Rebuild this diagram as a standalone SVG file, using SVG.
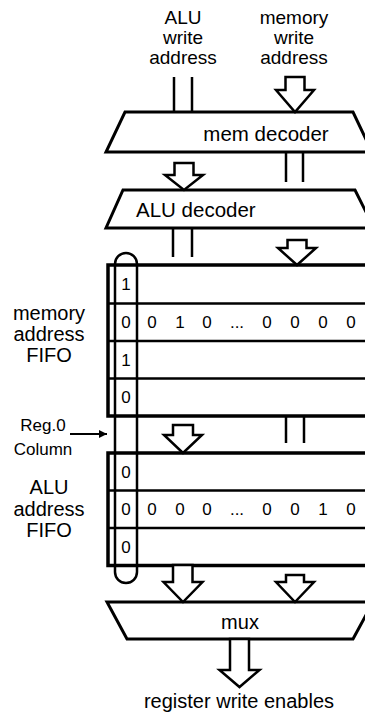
<svg xmlns="http://www.w3.org/2000/svg" width="365" height="715" viewBox="0 0 365 715">
<defs>
<style>
text{font-family:"Liberation Sans",Arial,Helvetica,sans-serif;fill:#000}
.lbl{font-size:19px;text-anchor:middle}
.side{font-size:20px;text-anchor:middle}
.dec{font-size:20.5px}
.dig{font-size:17px;text-anchor:middle}
.small{font-size:17px;text-anchor:middle}
.shape{fill:#fff;stroke:#000;stroke-width:3;stroke-linejoin:miter}
.box{fill:none;stroke:#000;stroke-width:3.5}
.div{fill:none;stroke:#000;stroke-width:2.5}
.ln{fill:none;stroke:#000;stroke-width:2.5}
.arr{fill:#fff;stroke:#000;stroke-width:2.5;stroke-linejoin:miter}
.oval{fill:none;stroke:#000;stroke-width:2.5}
</style>
<marker id="ah" viewBox="0 0 10 10" refX="10" refY="5" markerWidth="10" markerHeight="8" markerUnits="userSpaceOnUse" orient="auto">
<path d="M0,0 L10,5 L0,10 Z" fill="#000"/>
</marker>
</defs>

<g id="label-alu-write">
<text class="lbl" x="183" y="24">ALU</text>
<text class="lbl" x="183" y="44">write</text>
<text class="lbl" x="183" y="64">address</text>
</g>
<g id="label-mem-write">
<text class="lbl" x="294" y="24">memory</text>
<text class="lbl" x="294" y="44">write</text>
<text class="lbl" x="294" y="64">address</text>
</g>

<g id="mem-decoder">
<polygon class="shape" points="125,112 353,112 372,152 106,152"/>
<text class="dec" x="266" y="141" text-anchor="middle">mem decoder</text>
</g>

<g id="alu-decoder">
<polygon class="shape" points="123,190 355,190 374,228 106,228"/>
<text class="dec" x="136" y="217">ALU decoder</text>
</g>

<g id="memory-fifo">
<rect class="box" x="108" y="265" width="270" height="151"/>
<line class="div" x1="108" y1="303.5" x2="370" y2="303.5"/>
<line class="div" x1="108" y1="341" x2="370" y2="341"/>
<line class="div" x1="108" y1="378.5" x2="370" y2="378.5"/>
<text class="dig" x="126" y="290">1</text>
<text class="dig" x="126" y="328">0</text>
<text class="dig" x="126" y="366">1</text>
<text class="dig" x="126" y="403">0</text>
<text class="dig" x="152" y="328">0</text>
<text class="dig" x="180" y="328">1</text>
<text class="dig" x="207" y="328">0</text>
<text class="dig" x="237" y="328">...</text>
<text class="dig" x="267" y="328">0</text>
<text class="dig" x="295" y="328">0</text>
<text class="dig" x="323" y="328">0</text>
<text class="dig" x="351" y="328">0</text>
</g>
<g id="label-mem-fifo">
<text class="side" x="49" y="320">memory</text>
<text class="side" x="49" y="340.5">address</text>
<text class="side" x="49" y="361.5">FIFO</text>
</g>

<g id="alu-fifo">
<rect class="box" x="108" y="453" width="270" height="112.5"/>
<line class="div" x1="108" y1="490.5" x2="370" y2="490.5"/>
<line class="div" x1="108" y1="528" x2="370" y2="528"/>
<text class="dig" x="126" y="478">0</text>
<text class="dig" x="126" y="515">0</text>
<text class="dig" x="126" y="553">0</text>
<text class="dig" x="152" y="515">0</text>
<text class="dig" x="180" y="515">0</text>
<text class="dig" x="207" y="515">0</text>
<text class="dig" x="237" y="515">...</text>
<text class="dig" x="267" y="515">0</text>
<text class="dig" x="295" y="515">0</text>
<text class="dig" x="323" y="515">1</text>
<text class="dig" x="351" y="515">0</text>
</g>
<g id="label-alu-fifo">
<text class="side" x="49" y="494">ALU</text>
<text class="side" x="49" y="515.5">address</text>
<text class="side" x="49" y="537">FIFO</text>
</g>

<g id="reg0-column">
<path class="oval" d="M115,264 A11,11 0 0 1 137,264 V572 A11,11 0 0 1 115,572 Z"/>
</g>
<g id="label-reg0">
<text class="small" x="43" y="431">Reg.0</text>
<text class="small" x="43" y="455">Column</text>
</g>

<g id="mux">
<polygon class="shape" points="107,602 373,602 353,639 127,639"/>
<text class="side" x="240" y="629">mux</text>
</g>

<g id="label-output">
<text class="side" x="239" y="708">register write enables</text>
</g>

<g id="connectors">
<line class="ln" x1="174" y1="77" x2="174" y2="112"/>
<line class="ln" x1="192" y1="77" x2="192" y2="112"/>
<polygon class="arr" points="285.5,77 285.5,90 276,90 295,112 314,90 304.5,90 304.5,77"/>

<polygon class="arr" points="174.5,163 174.5,175 165,175 184,190 203,175 193.5,175 193.5,163"/>
<line class="ln" x1="286" y1="152" x2="286" y2="182"/>
<line class="ln" x1="303" y1="152" x2="303" y2="182"/>

<line class="ln" x1="173" y1="228" x2="173" y2="257"/>
<line class="ln" x1="192" y1="228" x2="192" y2="257"/>
<polygon class="arr" points="287.5,240 287.5,248 278,248 297,265 316,248 306.5,248 306.5,240"/>

<polygon class="arr" points="173,425 173,435 164,435 183,453 202,435 193,435 193,425"/>
<line class="ln" x1="286" y1="416" x2="286" y2="443"/>
<line class="ln" x1="304" y1="416" x2="304" y2="443"/>

<polygon class="arr" points="173,565 173,582 163.5,582 183,602 202.5,582 192.5,582 192.5,565"/>
<polygon class="arr" points="286,575 286,582 276,582 295,602 314,582 304,582 304,575"/>

<polygon class="arr" points="230,639 230,670 219.5,670 239.5,687 259.5,670 249,670 249,639"/>

<line x1="70" y1="434" x2="107" y2="434" stroke="#000" stroke-width="2" marker-end="url(#ah)"/>
</g>
</svg>
